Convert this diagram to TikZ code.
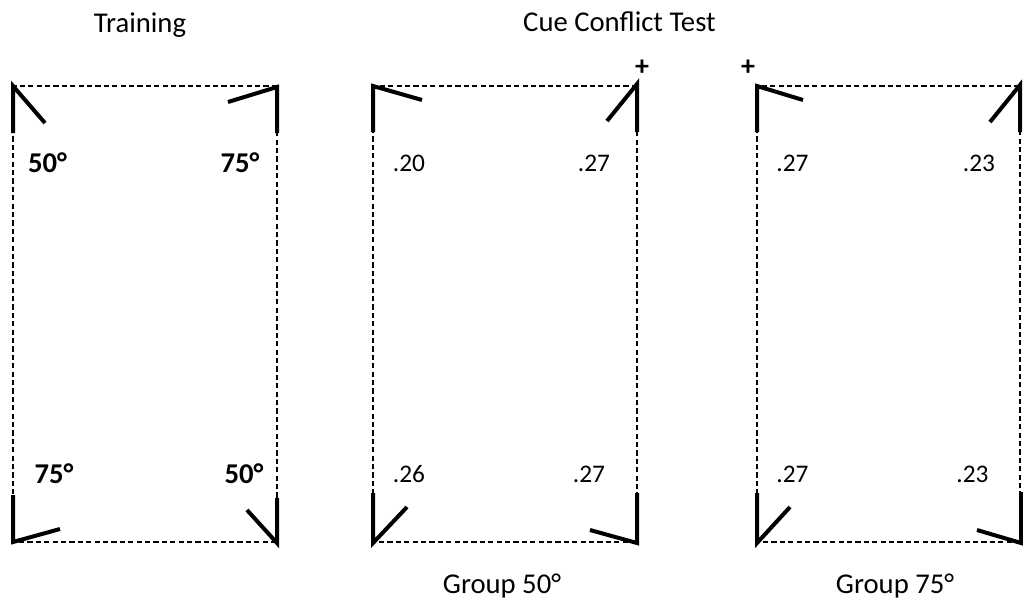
\documentclass[tikz,border=0pt]{standalone}
\usepackage{fontspec}
\setmainfont{Carlito}

\begin{document}
\begin{tikzpicture}[x=0.75pt, y=-0.75pt,
                    line cap=butt, line join=miter,
                    frame/.style={black, line width=1.3pt, dash pattern=on 3.9pt off 2.4pt},
                    bar/.style={black, line width=3pt},
                    heading/.style={anchor=base, inner sep=0pt, font=\fontsize{21.5}{26}\selectfont},
                    angle/.style={anchor=base, inner sep=0pt, font=\fontsize{21.5}{26}\selectfont\bfseries},
                    prob/.style={anchor=base, inner sep=0pt, font=\fontsize{19}{23}\selectfont},
                    cue/.style={inner sep=0pt, font=\fontsize{21}{25}\selectfont\bfseries}]
  \useasboundingbox (0,0) rectangle (1023,601);
  \def\top{86}
  \def\bot{542}

  % dashed rooms
  \foreach \l/\r in {13/277, 373/637, 757/1020}
    \draw[frame] (\l,\top) rectangle (\r,\bot);

  % corner cues, training
  \draw[bar] (45,123) -- (13,\top) -- (13,133);
  \draw[bar] (228,102) -- (277,87) -- (277,133);
  \draw[bar] (60,529) -- (13,\bot) -- (13,495);
  \draw[bar] (247,510) -- (277,543) -- (277,498);

  % corner cues, group 50
  \draw[bar] (422,100) -- (373,\top) -- (373,132);
  \draw[bar] (607,121) -- (637,84) -- (637,132);
  \draw[bar] (407,507) -- (373,543) -- (373,493);
  \draw[bar] (590,530) -- (637,543) -- (637,493);

  % corner cues, group 75
  \draw[bar] (803,100) -- (757,\top) -- (757,132);
  \draw[bar] (990,122) -- (1020,85) -- (1020,132);
  \draw[bar] (790,507) -- (757,543) -- (757,493);
  \draw[bar] (977,530) -- (1021,543) -- (1021,492);

  % headings
  \node[heading] (train) at (140,32) {Training};
  \node[heading] (test) at (619.5,31) {Cue Conflict Test};
  \node[heading] (grp50) at (502,593) {Group 50°};
  \node[heading] (grp75) at (895,593) {Group 75°};

  % trained angles
  \node[angle] (tl) at (47.5,172) {50°};
  \node[angle] (tr) at (240,172) {75°};
  \node[angle] (bl) at (54,483) {75°};
  \node[angle] (br) at (244,483) {50°};

  % choice proportions
  \node[prob] (a-tl) at (409,171) {.20};
  \node[prob] (a-tr) at (594,171) {.27};
  \node[prob] (a-bl) at (409,482) {.26};
  \node[prob] (a-br) at (589,482) {.27};
  \node[prob] (b-tl) at (792.5,171) {.27};
  \node[prob] (b-tr) at (979,171) {.23};
  \node[prob] (b-bl) at (792.5,482) {.27};
  \node[prob] (b-br) at (972.5,482) {.23};

  % correct corners
  \node[cue] (plus-a) at (642,68) {+};
  \node[cue] (plus-b) at (748,68) {+};
\end{tikzpicture}
\end{document}
